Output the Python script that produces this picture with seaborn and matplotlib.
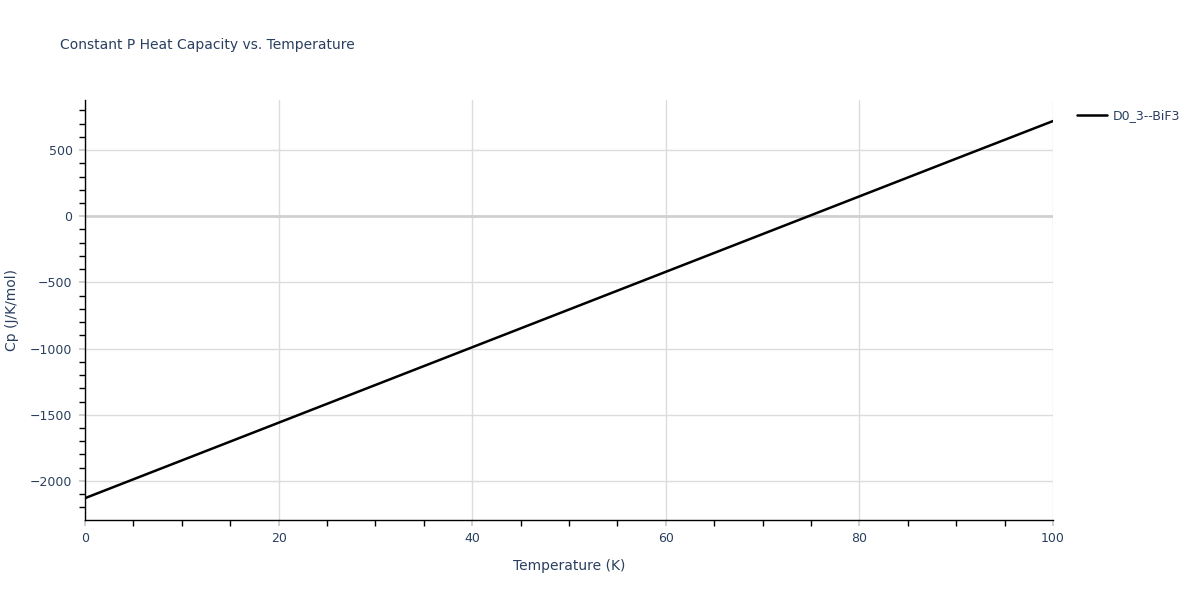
import matplotlib
matplotlib.use("Agg")
import matplotlib.pyplot as plt
import pandas as pd
import seaborn as sns
from matplotlib.ticker import MultipleLocator

TEXT = "#2a3f5f"
GRID = "#dcdcdc"

# values
temperature = [0, 10, 20, 30, 40, 50, 60, 70, 80, 90, 100]
cp = [-2130, -1845, -1560, -1275, -990, -705, -420, -135, 150, 435, 719]
series_name = "D0_3--BiF3"

df = pd.DataFrame({"Temperature": temperature, "Cp": cp, "series": series_name})

sns.set_style("white")
plt.rcParams["font.family"] = ["DejaVu Sans"]

fig = plt.figure(figsize=(12, 6), dpi=100)
ax = fig.add_axes([85 / 1200, 80 / 600, 968 / 1200, 420 / 600])

ax.axhline(0, color="#d0d0d0", lw=2, zorder=1)
sns.lineplot(data=df, x="Temperature", y="Cp", hue="series",
             palette=["black"], lw=1.8, ax=ax, zorder=3)

ax.set_xlim(0, 100)
ax.set_ylim(-2295, 878)
ax.xaxis.set_major_locator(MultipleLocator(20))
ax.xaxis.set_minor_locator(MultipleLocator(5))
ax.yaxis.set_major_locator(MultipleLocator(500))
ax.yaxis.set_minor_locator(MultipleLocator(100))
ax.grid(True, which="major", color=GRID, lw=1, zorder=0)
ax.set_axisbelow(True)

for side in ["top", "right"]:
    ax.spines[side].set_visible(False)
for side in ["left", "bottom"]:
    ax.spines[side].set_color("black")
    ax.spines[side].set_linewidth(1)

# minor ticks black, major ticks light grey like the grid
ax.tick_params(which="minor", bottom=True, left=True, direction="out",
               color="black", length=4, width=1)
ax.tick_params(which="major", bottom=True, left=True, direction="out",
               color="#c8c8c8", length=4, width=1.2, pad=5,
               labelcolor=TEXT, labelsize=9)
ax.yaxis.set_major_formatter(plt.FuncFormatter(lambda v, p: f"{v:.0f}".replace("-", "\u2212")))

ax.set_xlabel("Temperature (K)", color=TEXT, fontsize=10, labelpad=10)
ax.set_ylabel("Cp (J/K/mol)", color=TEXT, fontsize=10, labelpad=8)

fig.text(60 / 1200, 1 - 45 / 600, "Constant P Heat Capacity vs. Temperature",
         color=TEXT, fontsize=10, va="center", ha="left")

leg = ax.legend(loc="upper left", bbox_to_anchor=(1.013, 1.005), frameon=False,
                fontsize=9, handlelength=2.4, handletextpad=0.5,
                labelcolor=TEXT, title=None)

fig.savefig("out.png", dpi=100)
